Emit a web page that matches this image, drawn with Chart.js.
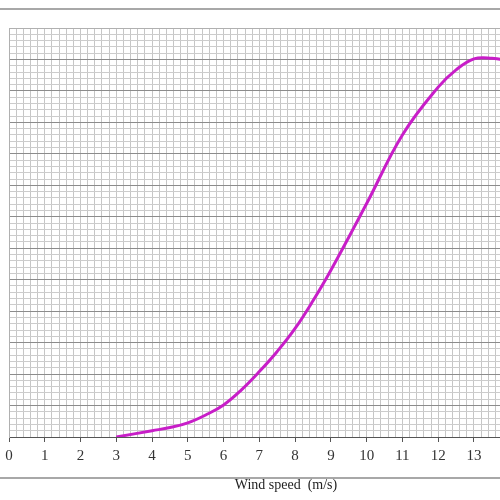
<!DOCTYPE html>
<html>
<head>
<meta charset="utf-8">
<script src="https://cdn.jsdelivr.net/npm/chart.js@4/dist/chart.umd.min.js"></script>
<style>
  html, body { margin: 0; padding: 0; background: #fff; overflow: hidden; }
  #wrap { position: absolute; left: 0; top: 0; width: 529px; height: 500px; }
  .rule { position: absolute; left: 0; width: 500px; height: 2px; background: #a8a8a8; }
  #xtitle { position: absolute; top: 477px; left: 200px; width: 172px; text-align: center;
    font-family: 'Liberation Serif', serif; font-size: 14px; color: #222; white-space: pre; }
</style>
</head>
<body>
<div class="rule" style="top:8px"></div>
<div id="wrap"><canvas id="power" width="529" height="500"></canvas></div>
<div class="rule" style="top:477px"></div>
<div id="xtitle">Wind speed  (m/s)</div>
<script>
// wind speed (m/s) and output (one major grid row = 1)
var windSpeed = [3, 4, 4.5, 5, 5.5, 6, 6.5, 7, 7.5, 8, 8.5, 9, 10, 11, 12, 12.5, 13, 13.5, 14];
var output = [0, 0.2, 0.3, 0.45, 0.7, 1.02, 1.5, 2.08, 2.72, 3.45, 4.33, 5.3, 7.42, 9.6, 11.12, 11.67, 12.02, 12.04, 11.95];

function isWhole(v) { return Math.abs(v - Math.round(v)) < 1e-6; }

var points = windSpeed.map(function (x, i) { return { x: x, y: output[i] }; });

var power = document.getElementById('power').getContext('2d');
var power_chart = new Chart(power, {
  type: 'line',
  data: {
    datasets: [{
      label: 'Output',
      data: points,
      borderColor: '#c81ec8',
      borderWidth: 3,
      pointRadius: 0,
      tension: 0.4,
      fill: false
    }]
  },
  options: {
    responsive: false,
    devicePixelRatio: 1,
    animation: false,
    layout: { padding: { top: 28, left: 0, right: 0, bottom: 30 } },
    plugins: { legend: { display: false }, tooltip: { enabled: false } },
    scales: {
      x: {
        type: 'linear',
        min: 0,
        max: 14.4,
        afterFit: function (s) { s.height = 33; },
        border: { display: true, color: '#555', width: 1 },
        grid: {
          color: '#c6c6c6',
          lineWidth: 1,
          tickLength: 5,
          tickColor: function (c) { return isWhole(c.tick.value) ? '#555' : 'rgba(0,0,0,0)'; }
        },
        ticks: {
          stepSize: 0.2,
          autoSkip: false,
          maxRotation: 0,
          maxTicksLimit: 1000,
          padding: 5,
          color: '#333',
          font: { family: 'Liberation Serif', size: 15 },
          callback: function (v) { return isWhole(v) ? String(Math.round(v)) : ''; }
        }
      },
      y: {
        min: 0,
        max: 13,
        afterFit: function (s) { s.width = 9; },
        border: { display: true, color: '#b0b0b0', width: 1 },
        grid: {
          drawTicks: false,
          lineWidth: 1,
          color: function (c) {
            var v = c.tick.value;
            if (v >= 12.999) return '#b0b0b0';
            return isWhole(v) ? '#8c8c8c' : '#cccccc';
          }
        },
        ticks: { display: false, stepSize: 0.2, maxTicksLimit: 1000 }
      }
    }
  }
});
</script>
</body>
</html>
